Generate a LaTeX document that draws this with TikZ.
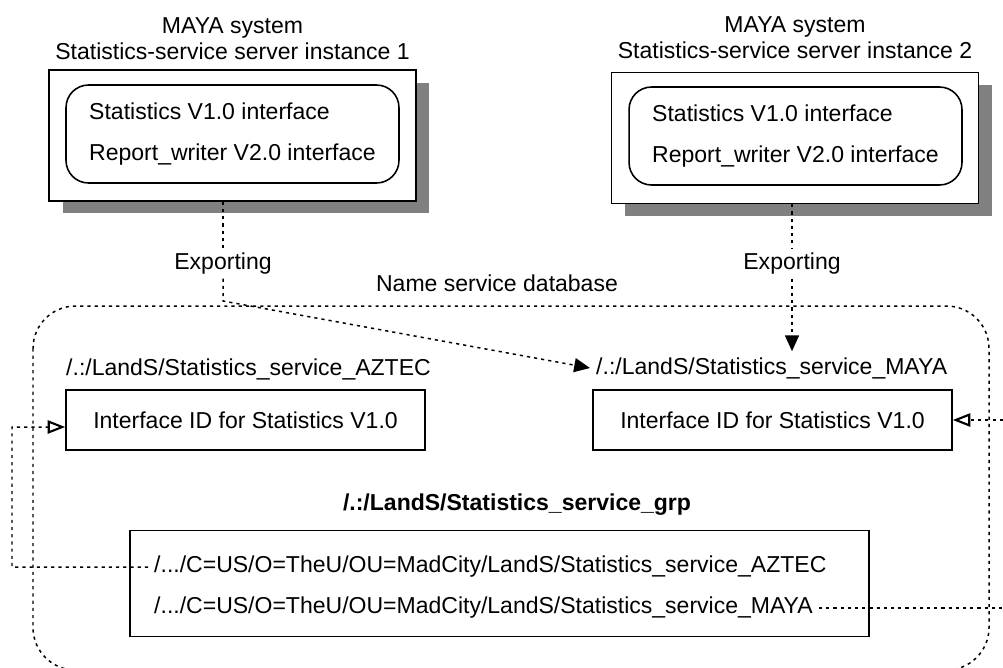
\documentclass[tikz,border=0pt]{standalone}
\usepackage{fontspec}
\setmainfont{Liberation Sans}
\usetikzlibrary{arrows.meta,shadows,positioning}

\begin{document}
\begin{tikzpicture}[x=0.02cm,y=-0.02cm,
  every node/.style={font=\fontsize{13.1}{14.2}\selectfont},
  srvbox/.style={draw,line width=0.9pt,fill=white,minimum width=7.34cm,minimum height=2.62cm,
    drop shadow={shadow xshift=0.27cm,shadow yshift=-0.25cm,fill=black!50,opacity=1}},
  ifbox/.style={draw,line width=0.9pt,rounded corners=0.45cm,minimum width=6.66cm,minimum height=1.96cm,
    align=left,font=\fontsize{13.1}{23.2}\selectfont},
  idbox/.style={draw,line width=0.9pt,minimum width=7.18cm,minimum height=1.2cm},
  title/.style={align=center,font=\fontsize{13.1}{14.9}\selectfont},
  dots/.style={line width=0.85pt,dash pattern=on 1.8pt off 2.3pt},
  export/.style={dots,-{Triangle[length=9pt,width=8pt]}},
  refer/.style={dots,-{Triangle[open,length=10pt,width=7.5pt,line width=1.2pt]}},
  lbl/.style={fill=white,inner sep=2pt}]
\clip (0,0) rectangle (1003,667);
% server instances
\node[srvbox] (srv1) at (232.5,135.5) {};
\node[ifbox] (if1) at (232.5,134) {Statistics V1.0 interface\\Report\_writer V2.0 interface};
\node[above=2pt of srv1,title] (title1) {MAYA system\\Statistics-service server instance 1};
\node[srvbox] (srv2) at (795,138) {};
\node[ifbox] (if2) at (795.5,136) {Statistics V1.0 interface\\Report\_writer V2.0 interface};
\node[above=4pt of srv2,title] (title2) {MAYA system\\Statistics-service server instance 2};
% name service database
\draw[dots,rounded corners=0.85cm] (33,306) rectangle (989,670);
\node (nsdb) at (497,283) {Name service database};
\node[anchor=west] (aztecname) at (60,369) {/.:/LandS/Statistics\_service\_AZTEC};
\node[idbox] (aztec) at (245.5,420) {Interface ID for Statistics V1.0};
\node[anchor=west] (mayaname) at (590,368) {/.:/LandS/Statistics\_service\_MAYA};
\node[idbox] (maya) at (772.5,420) {Interface ID for Statistics V1.0};
% group entry
\node[font=\bfseries\fontsize{13.1}{14.2}\selectfont] (grpname) at (517,505) {/.:/LandS/Statistics\_service\_grp};
\node[draw,line width=0.9pt,minimum width=14.78cm,minimum height=2.12cm] (grp) at (499.5,583.5) {};
\node[anchor=west] (grp1) at (148,567) {/.../C=US/O=TheU/OU=MadCity/LandS/Statistics\_service\_AZTEC};
\node[anchor=west] (grp2) at (148,608) {/.../C=US/O=TheU/OU=MadCity/LandS/Statistics\_service\_MAYA};
% exporting
\node[lbl] (exp1) at (223,264) {Exporting};
\node[lbl] (exp2) at (792,264) {Exporting};
\coordinate (bend1) at (223,301);
\draw[dots] (exp1 |- srv1.south) -- (exp1);
\draw[export] (exp1) -- (bend1) -- (mayaname.west);
\draw[dots] (exp2 |- srv2.south) -- (exp2);
\draw[export] (exp2) -- (exp2 |- mayaname.north);
% group members
\coordinate (lft) at (12,427);
\coordinate (rgt) at (1015,420);
\draw[refer] (grp1.west) -| (lft) -- ([yshift=-0.14cm]aztec.west);
\draw[refer] (grp2.east) -| (rgt) -- (maya.east);
\end{tikzpicture}
\end{document}
